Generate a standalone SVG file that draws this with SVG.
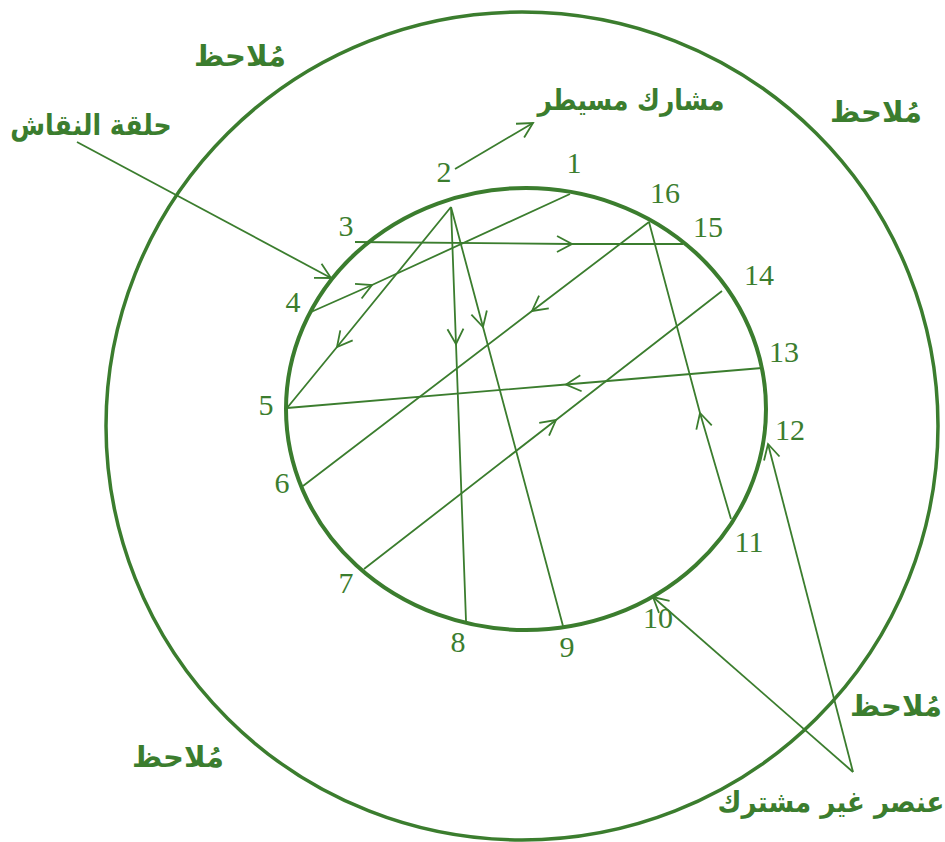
<svg xmlns="http://www.w3.org/2000/svg" width="945" height="842" viewBox="0 0 945 842">
<style>
.num{font-family:"Liberation Serif","DejaVu Serif",serif;font-size:30px;fill:#3b7d2e;text-anchor:middle}
.ar{font-family:"DejaVu Sans",sans-serif;font-weight:bold;font-size:29px;fill:#3b7d2e;text-anchor:middle}
.chord{fill:none;stroke:#3b7d2e;stroke-width:1.8}
.ring{fill:none;stroke:#3b7d2e}
</style>
<defs>
<marker id="chev" markerUnits="userSpaceOnUse" markerWidth="30" markerHeight="30" viewBox="-20 -15 30 30" refX="0" refY="0" orient="auto">
<path d="M -15 -8 L 0 0 L -15 8" fill="none" stroke="#3b7d2e" stroke-width="1.8"/>
</marker>
</defs>
<rect width="945" height="842" fill="#ffffff"/>
<g id="outer-circle"><ellipse class="ring" cx="522" cy="426" rx="416" ry="414" stroke-width="3.5"/></g>
<g id="inner-circle"><ellipse class="ring" cx="526" cy="409" rx="240" ry="221" stroke-width="4"/></g>
<g id="connectors">
<path class="chord" d="M355 242 L572 244 L683 244" marker-mid="url(#chev)"/>
<path class="chord" d="M311 312 L372 285 L570 194" marker-mid="url(#chev)"/>
<path class="chord" d="M451 207 L337 347 L287 408" marker-mid="url(#chev)"/>
<path class="chord" d="M762 368 L566 384.5 L287 408" marker-mid="url(#chev)"/>
<path class="chord" d="M649 222 L532 311 L303 486" marker-mid="url(#chev)"/>
<path class="chord" d="M364 569 L556 420 L722 291" marker-mid="url(#chev)"/>
<path class="chord" d="M451 207 L456 344 L466 621" marker-mid="url(#chev)"/>
<path class="chord" d="M451 207 L483 327 L563 626" marker-mid="url(#chev)"/>
<path class="chord" d="M731 519 L700 413 L649 222" marker-mid="url(#chev)"/>
<path class="chord" d="M853 772 L653 597" marker-end="url(#chev)"/>
<path class="chord" d="M853 772 L768 444" marker-end="url(#chev)"/>
<path class="chord" d="M455 169 L533 123" marker-end="url(#chev)"/>
<path class="chord" d="M77 142 L331 278" marker-end="url(#chev)"/>
</g>
<g id="n1"><text class="num" x="574" y="173">1</text></g>
<g id="n2"><text class="num" x="444" y="182">2</text></g>
<g id="n3"><text class="num" x="346" y="236">3</text></g>
<g id="n4"><text class="num" x="293" y="312">4</text></g>
<g id="n5"><text class="num" x="266" y="415">5</text></g>
<g id="n6"><text class="num" x="282" y="493">6</text></g>
<g id="n7"><text class="num" x="346" y="593">7</text></g>
<g id="n8"><text class="num" x="458" y="652">8</text></g>
<g id="n9"><text class="num" x="567" y="657">9</text></g>
<g id="n10"><text class="num" x="658" y="628">10</text></g>
<g id="n11"><text class="num" x="749" y="552">11</text></g>
<g id="n12"><text class="num" x="790" y="440">12</text></g>
<g id="n13"><text class="num" x="784" y="362">13</text></g>
<g id="n14"><text class="num" x="759" y="285">14</text></g>
<g id="n15"><text class="num" x="708" y="237">15</text></g>
<g id="n16"><text class="num" x="665" y="203">16</text></g>
<g id="observer-tl"><text class="ar" x="240" y="66" direction="rtl">مُلاحظ</text></g>
<g id="observer-tr"><text class="ar" x="876" y="122" direction="rtl">مُلاحظ</text></g>
<g id="observer-br"><text class="ar" x="896" y="716" direction="rtl">مُلاحظ</text></g>
<g id="observer-bl"><text class="ar" x="178" y="767" direction="rtl">مُلاحظ</text></g>
<g id="dominant" transform="translate(631 110) scale(0.86 1)"><text class="ar" x="0" y="0" direction="rtl">مشارك مسيطر</text></g>
<g id="circle-label" transform="translate(91 135) scale(0.87 1)"><text class="ar" x="0" y="0" direction="rtl">حلقة النقاش</text></g>
<g id="non-participant" transform="translate(831 812) scale(0.9 1)"><text class="ar" x="0" y="0" direction="rtl">عنصر غير مشترك</text></g>
</svg>
